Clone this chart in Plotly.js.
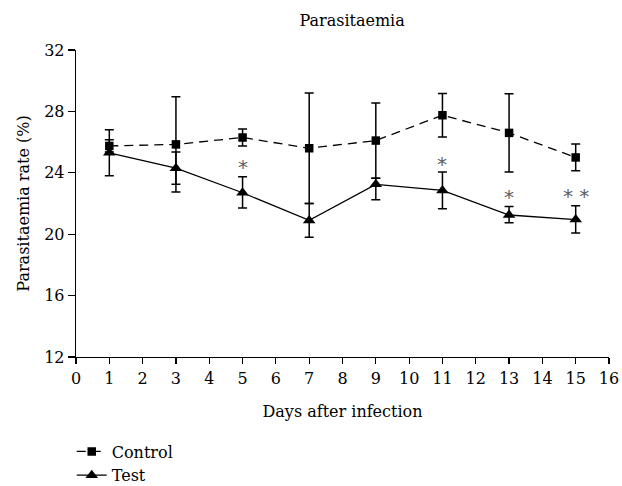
<!DOCTYPE html>
<html><head><meta charset="utf-8">
<script src="https://cdn.plot.ly/plotly-3.0.1.min.js"></script>
<style>body{margin:0;background:#fff}#c{width:622px;height:486px}</style>
</head><body><div id="c"></div>
<script>
const days = [1, 3, 5, 7, 9, 11, 13, 15];
const controlMean = [25.75, 25.85, 26.3, 25.6, 26.1, 27.75, 26.6, 25.0];
const controlErrUp = [0.4, 3.1, 0.55, 3.6, 2.45, 1.42, 2.55, 0.87];
const controlErrDown = [0.4, 3.1, 0.55, 3.6, 2.45, 1.42, 2.55, 0.87];
const testMean = [25.3, 24.3, 22.7, 20.9, 23.25, 22.85, 21.25, 20.95];
const testErrUp = [1.5, 1.05, 1.05, 1.1, 0.4, 1.2, 0.55, 0.9];
const testErrDown = [1.5, 1.05, 1.0, 1.1, 1.0, 1.2, 0.5, 0.87];
const sigDays = [5, 11, 13, 15];
const sigLabels = ["*", "*", "*", "* *"];
const sigY = [24.4, 24.55, 22.4, 22.5];

const font = "DejaVu Serif, serif";
const traces = [
  {x: days, y: controlMean, name: "Control", type: "scatter", mode: "lines+markers",
   line: {color: "#000", width: 1.3, dash: "9px,6px"},
   marker: {symbol: "square", size: 8.5, color: "#000"},
   error_y: {type: "data", symmetric: false, array: controlErrUp, arrayminus: controlErrDown,
     color: "#000", thickness: 1.5, width: 4.5}},
  {x: days, y: testMean, name: "Test", type: "scatter", mode: "lines+markers",
   line: {color: "#000", width: 1.3},
   marker: {symbol: "triangle-up", size: 11, color: "#000"},
   error_y: {type: "data", symmetric: false, array: testErrUp, arrayminus: testErrDown,
     color: "#000", thickness: 1.5, width: 4.5}}
];
const annotations = sigDays.map((d, i) => ({
  x: d, y: sigY[i], text: sigLabels[i], showarrow: false, yanchor: "middle",
  font: {family: "DejaVu Sans, sans-serif", size: 20, color: "#606060"}
}));
const layout = {
  width: 622, height: 486,
  margin: {l: 76, r: 13, t: 50, b: 129},
  paper_bgcolor: "#fff", plot_bgcolor: "#fff",
  font: {family: font, size: 16, color: "#000"},
  title: {text: "Parasitaemia", font: {family: font, size: 16, color: "#000"},
    xref: "paper", x: 0.518, xanchor: "center", yref: "container", y: 0.957, yanchor: "middle"},
  xaxis: {range: [0, 16], tickmode: "linear", tick0: 0, dtick: 1, ticks: "outside", ticklen: 6,
    tickcolor: "#000", tickwidth: 1.2, showline: true, linecolor: "#000", linewidth: 1.3, showgrid: false, zeroline: false,
    tickfont: {family: font, size: 16},
    title: {text: "Days after infection", font: {family: font, size: 16}, standoff: 19}},
  yaxis: {range: [12, 32], tickmode: "linear", tick0: 12, dtick: 4, ticks: "outside", ticklen: 7,
    tickcolor: "#000", tickwidth: 1.2, showline: true, linecolor: "#000", linewidth: 1.3, showgrid: false, zeroline: false,
    tickfont: {family: font, size: 16},
    title: {text: "Parasitaemia rate (%)", font: {family: font, size: 16}, standoff: 10}},
  showlegend: true,
  legend: {x: -0.008, xanchor: "left", xref: "paper", yref: "container", y: 0.106, yanchor: "top",
    font: {family: font, size: 16}, tracegroupgap: 0, itemwidth: 30, bgcolor: "rgba(0,0,0,0)"},
  annotations: annotations
};
Plotly.newPlot("c", traces, layout, {displayModeBar: false, staticPlot: true});
</script></body></html>
